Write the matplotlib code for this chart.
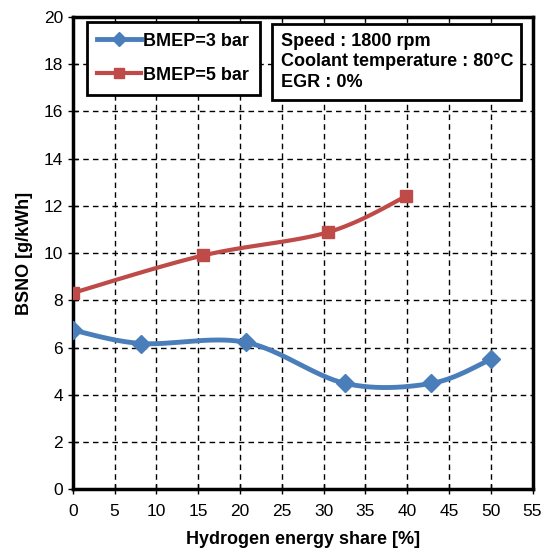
import numpy as np
import matplotlib
matplotlib.use("Agg")
import matplotlib.pyplot as plt

plt.rcParams['font.family'] = ['Liberation Sans', 'DejaVu Sans']

x3 = [0, 8.2, 20.7, 32.6, 42.9, 50]
y3 = [6.74, 6.17, 6.22, 4.48, 4.48, 5.5]
x5 = [0, 15.6, 30.5, 39.9]
y5 = [8.31, 9.9, 10.88, 12.41]
label3 = "BMEP=3 bar"
label5 = "BMEP=5 bar"
xticks = list(range(0, 56, 5))
yticks = list(range(0, 21, 2))
info = "Speed : 1800 rpm\nCoolant temperature : 80°C\nEGR : 0%"


def smooth(xs, ys, n=40):
    P = np.column_stack([xs, ys]).astype(float)
    P = np.vstack([P[0], P, P[-1]])
    out = []
    for i in range(1, len(P) - 2):
        p0, p1, p2, p3 = P[i - 1], P[i], P[i + 1], P[i + 2]
        c1 = p1 + (p2 - p0) / 6.0
        c2 = p2 - (p3 - p1) / 6.0
        t = np.linspace(0, 1, n)[:, None]
        seg = ((1 - t) ** 3) * p1 + 3 * ((1 - t) ** 2) * t * c1 + 3 * (1 - t) * t ** 2 * c2 + t ** 3 * p2
        out.append(seg if i == 1 else seg[1:])
    s = np.vstack(out)
    return s[:, 0], s[:, 1]


fig = plt.figure(figsize=(5.49, 5.49), dpi=100)
ax = fig.add_axes([0.1325, 0.109, 0.8375, 0.86])

blue = '#4A7EBB'
red = '#BE4B48'

sx, sy = smooth(x3, y3)
ax.plot(sx, sy, color=blue, lw=3.5, zorder=3)
ax.plot(x3, y3, ls='none', marker='D', ms=9, color=blue, zorder=4)
sx, sy = smooth(x5, y5)
ax.plot(sx, sy, color=red, lw=3, zorder=3)
ax.plot(x5, y5, ls='none', marker='s', ms=8.5, color=red, zorder=4)

h3, = ax.plot([], [], color=blue, lw=3.5, marker='D', ms=7)
h5, = ax.plot([], [], color=red, lw=3, marker='s', ms=7.5)

ax.set_xlim(0, 55)
ax.set_ylim(0, 20)
ax.set_xticks(xticks)
ax.set_yticks(yticks)
ax.tick_params(direction='inout', length=7, width=1, labelsize=12.5, colors='black')
ax.tick_params(axis='x', pad=7)
for sp in ax.spines.values():
    sp.set_linewidth(2.5)
    sp.set_color('black')
ax.grid(True, color='black', ls=(0, (4, 3)), lw=1)
ax.set_axisbelow(True)

ax.set_xlabel("Hydrogen energy share [%]", fontsize=13, fontweight='bold', labelpad=9)
ax.set_ylabel("BSNO [g/kWh]", fontsize=13, fontweight='bold', labelpad=8)

leg = ax.legend([h3, h5], [label3, label5], loc='upper left', bbox_to_anchor=(0.03, 0.99),
                prop={'weight': 'bold', 'size': 13}, fancybox=False,
                edgecolor='black', framealpha=1, handlelength=2.4, handletextpad=0.15,
                labelspacing=0.95, borderpad=0.6, borderaxespad=0)
leg.get_frame().set_linewidth(2)

ax.text(0.452, 0.967, info, transform=ax.transAxes, ha='left', va='top',
        fontsize=13, fontweight='bold', linespacing=1.3,
        bbox=dict(boxstyle='square,pad=0.45', fc='white', ec='black', lw=2), zorder=5)

fig.savefig("out.png", dpi=100)
